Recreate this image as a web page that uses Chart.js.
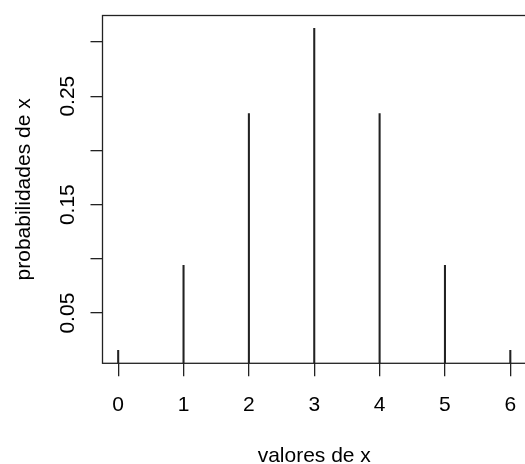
<!DOCTYPE html>
<html>
<head>
<meta charset="utf-8">
<script src="https://cdn.jsdelivr.net/npm/chart.js@4/dist/chart.umd.min.js"></script>
<style>
  html, body { margin: 0; padding: 0; background: #fff; overflow: hidden; }
  #wrap { width: 526px; height: 464px; }
</style>
</head>
<body>
<div id="wrap"><canvas id="chart" width="526" height="464"></canvas></div>
<script>
// valores de x y sus probabilidades
const xValues = [0, 1, 2, 3, 4, 5, 6];
const probs = [0.0156, 0.094, 0.234, 0.3125, 0.234, 0.094, 0.0156];
const yTicks = [0.05, 0.10, 0.15, 0.20, 0.25, 0.30];
const yTickLabels = ["0.05", "", "0.15", "", "0.25", ""];

const ink = "#222";
const font = "'Liberation Sans', Arial, sans-serif";

// caja del grafico (bty = "o")
const boxPlugin = {
  id: "box",
  afterDraw(chart) {
    const a = chart.chartArea;
    const ctx = chart.ctx;
    ctx.save();
    ctx.strokeStyle = ink;
    ctx.lineWidth = 1.3;
    ctx.strokeRect(a.left, a.top, a.right - a.left, a.bottom - a.top);
    ctx.restore();
  }
};

new Chart(document.getElementById("chart"), {
  type: "bar",
  data: {
    datasets: [{
      data: xValues.map((x, i) => ({ x: x, y: probs[i] })),
      backgroundColor: ink,
      borderWidth: 0,
      barThickness: 1.4
    }]
  },
  options: {
    responsive: false,
    animation: false,
    layout: { padding: { top: 15.5, left: 0, right: 0, bottom: 0 } },
    plugins: { legend: { display: false }, tooltip: { enabled: false } },
    scales: {
      x: {
        type: "linear",
        offset: false,
        min: -0.24,
        max: 6.24,
        afterBuildTicks: s => { s.ticks = xValues.map(v => ({ value: v })); },
        afterFit: s => { s.height = 100.7; s.paddingLeft = 0; s.paddingRight = 0; },
        border: { display: false },
        grid: { offset: false, drawOnChartArea: false, drawTicks: true, tickLength: 13, color: ink, lineWidth: 1.3 },
        ticks: { autoSkip: false, maxRotation: 0, padding: 16, color: "#000", font: { family: font, size: 21 } },
        title: {
          display: true, text: "valores de x", color: "#000",
          font: { family: font, size: 21, lineHeight: 1 }, padding: { top: 0, bottom: -3 }
        }
      },
      y: {
        min: 0.00375,
        max: 0.324375,
        afterBuildTicks: s => { s.ticks = yTicks.map(v => ({ value: v })); },
        afterFit: s => { s.width = 102.5; s.paddingTop = 0; s.paddingBottom = 0; },
        border: { display: false },
        grid: { drawOnChartArea: false, drawTicks: true, tickLength: 12, color: ink, lineWidth: 1.3 },
        ticks: {
          autoSkip: false, minRotation: 90, maxRotation: 90, crossAlign: "center", padding: 1.6,
          color: "#000", font: { family: font, size: 21 },
          callback: (v, i) => yTickLabels[i]
        },
        title: {
          display: true, text: "probabilidades de x", color: "#000",
          font: { family: font, size: 21, lineHeight: 1 }, padding: { top: 13.5, bottom: 0 }
        }
      }
    }
  },
  plugins: [boxPlugin]
});
</script>
</body>
</html>
